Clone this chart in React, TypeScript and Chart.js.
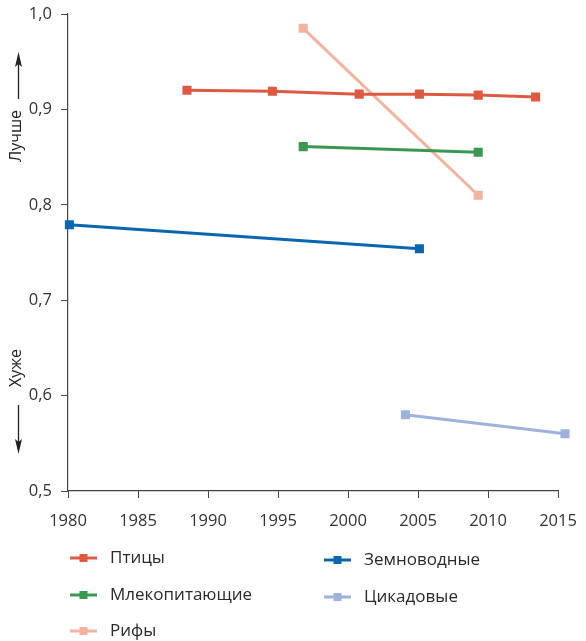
import React, { useEffect, useRef } from "react";
import { Chart, registerables } from "chart.js";

Chart.register(...registerables);

const xTicks = [1980, 1985, 1990, 1995, 2000, 2005, 2010, 2015];
const yTicks = [0.5, 0.6, 0.7, 0.8, 0.9, 1.0];

const seriesNames = ["Птицы", "Млекопитающие", "Рифы", "Земноводные", "Цикадовые"];
const seriesColors = ["#dd5a42", "#3b9853", "#f0b4a0", "#0b66b0", "#9fb2dc"];

const birdsYears = [1988.5, 1994.6, 2000.8, 2005.1, 2009.3, 2013.4];
const birdsValues = [0.92, 0.919, 0.916, 0.916, 0.915, 0.913];

const mammalsYears = [1996.8, 2009.3];
const mammalsValues = [0.861, 0.855];

const reefsYears = [1996.8, 2009.3];
const reefsValues = [0.985, 0.81];

const amphibiansYears = [1980.1, 2005.1];
const amphibiansValues = [0.779, 0.754];

const cycadsYears = [2004.1, 2015.5];
const cycadsValues = [0.58, 0.56];

const seriesYears = [birdsYears, mammalsYears, reefsYears, amphibiansYears, cycadsYears];
const seriesValues = [birdsValues, mammalsValues, reefsValues, amphibiansValues, cycadsValues];

const betterLabel = "Лучше";
const worseLabel = "Хуже";

const FONT = '"Open Sans", "DejaVu Sans", sans-serif';

function drawArrow(ctx: CanvasRenderingContext2D, x: number, y1: number, y2: number) {
  const dir = y2 > y1 ? 1 : -1;
  ctx.save();
  ctx.strokeStyle = "#222";
  ctx.fillStyle = "#222";
  ctx.lineWidth = 1.3;
  ctx.beginPath();
  ctx.moveTo(x, y1);
  ctx.lineTo(x, y2 - dir * 10);
  ctx.stroke();
  ctx.beginPath();
  ctx.moveTo(x, y2);
  ctx.lineTo(x - 3.5, y2 - dir * 15);
  ctx.lineTo(x, y2 - dir * 12);
  ctx.lineTo(x + 3.5, y2 - dir * 15);
  ctx.closePath();
  ctx.fill();
  ctx.restore();
}

const decorPlugin = {
  id: "decor",
  afterDraw(chart: any) {
    const ctx: CanvasRenderingContext2D = chart.ctx;
    ctx.save();
    ctx.font = `16px ${FONT}`;
    ctx.fillStyle = "#222";
    ctx.textAlign = "center";
    ctx.textBaseline = "middle";
    ctx.save();
    ctx.translate(16, 136);
    ctx.rotate(-Math.PI / 2);
    ctx.fillText(betterLabel, 0, 0);
    ctx.restore();
    ctx.save();
    ctx.translate(16, 368);
    ctx.rotate(-Math.PI / 2);
    ctx.fillText(worseLabel, 0, 0);
    ctx.restore();
    ctx.restore();
    drawArrow(ctx, 18.5, 99, 52);
    drawArrow(ctx, 18.5, 405, 454);

    const datasets = chart.data.datasets;
    const colX = [70, 324];
    const rowY = [558, 595, 631];
    ctx.save();
    ctx.font = `17px ${FONT}`;
    ctx.textAlign = "left";
    ctx.textBaseline = "middle";
    datasets.forEach((ds: any, i: number) => {
      const col = i < 3 ? 0 : 1;
      const row = i < 3 ? i : i - 3;
      const x = colX[col];
      const y = rowY[row] + (col === 1 ? 2 : 0);
      ctx.strokeStyle = ds.borderColor;
      ctx.lineWidth = 3;
      ctx.beginPath();
      ctx.moveTo(x, y);
      ctx.lineTo(x + 27, y);
      ctx.stroke();
      ctx.fillStyle = ds.borderColor;
      ctx.fillRect(x + 9.5, y - 4, 8, 8);
      ctx.fillStyle = "#2a2a2a";
      ctx.fillText(ds.label, x + 40, y);
    });
    ctx.restore();
  },
};

export default function App() {
  const canvasRef = useRef<HTMLCanvasElement | null>(null);

  useEffect(() => {
    if (!canvasRef.current) return;
    const datasets = seriesNames.map((name, i) => ({
      label: name,
      data: seriesYears[i].map((yr, j) => ({ x: yr, y: seriesValues[i][j] })),
      borderColor: seriesColors[i],
      backgroundColor: seriesColors[i],
      borderWidth: 3,
      pointStyle: "rect" as const,
      pointRadius: 4.3,
      pointBorderWidth: 3,
      pointBorderColor: seriesColors[i],
      pointHoverRadius: 4.3,
      tension: 0,
      clip: false as any,
    }));
    const chart = new Chart(canvasRef.current, {
      type: "line",
      data: { datasets },
      options: {
        animation: false,
        responsive: false,
        maintainAspectRatio: false,
        layout: { padding: { left: 0, top: 14, right: 28, bottom: 110 } },
        plugins: {
          legend: { display: false },
          tooltip: { enabled: false },
        },
        scales: {
          x: {
            type: "linear",
            min: 1980,
            max: 2015,
            afterFit: (s: any) => {
              s.height = 40;
              s.paddingLeft = 0;
              s.paddingRight = 0;
            },
            afterBuildTicks: (s: any) => {
              s.ticks = xTicks.map((v) => ({ value: v }));
            },
            ticks: {
              font: { family: FONT, size: 16.5 },
              color: "#333",
              padding: 13,
              maxRotation: 0,
              callback: (v: any) => String(v),
            },
            grid: {
              drawOnChartArea: false,
              drawTicks: true,
              tickLength: 7,
              color: "#444",
              lineWidth: 1,
            },
            border: { display: true, color: "#444", width: 1.2 },
          },
          y: {
            type: "linear",
            min: 0.5,
            max: 1.0,
            afterFit: (s: any) => {
              s.width = 68;
              s.paddingTop = 0;
              s.paddingBottom = 0;
            },
            afterBuildTicks: (s: any) => {
              s.ticks = yTicks.map((v) => ({ value: v }));
            },
            ticks: {
              font: { family: FONT, size: 16.5 },
              color: "#333",
              padding: 9,
              callback: (v: any) => Number(v).toFixed(1).replace(".", ","),
            },
            grid: {
              drawOnChartArea: false,
              drawTicks: true,
              tickLength: 7,
              color: "#444",
              lineWidth: 1,
            },
            border: { display: true, color: "#444", width: 1.2 },
          },
        },
      },
      plugins: [decorPlugin],
    });
    return () => chart.destroy();
  }, []);

  return (
    <div style={{ position: "fixed", left: 0, top: 0, width: 586, height: 641, background: "#fff" }}>
      <canvas ref={canvasRef} width={586} height={641} style={{ width: 586, height: 641 }} />
    </div>
  );
}
